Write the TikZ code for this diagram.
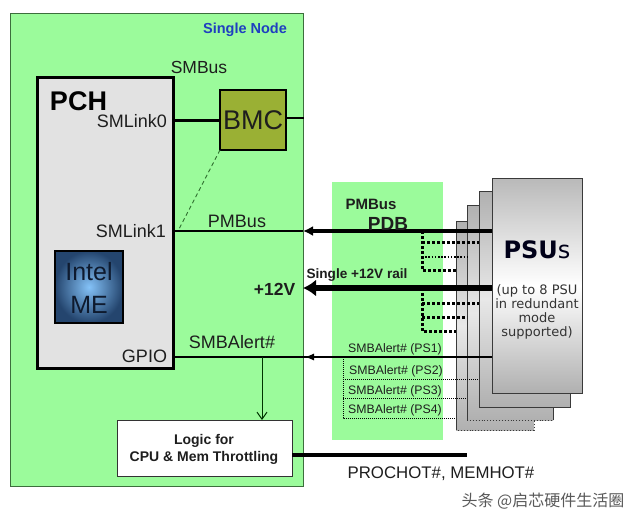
\documentclass[tikz,border=0pt]{standalone}
\usepackage{fontspec}
\setmainfont{Liberation Sans}
\newfontfamily\dejavu{DejaVu Sans}
\newfontfamily\cjk{Noto Sans CJK SC}
\usetikzlibrary{arrows.meta}
\definecolor{nodegreen}{HTML}{9BFB9B}
\definecolor{bordergreen}{HTML}{3C6E3C}
\definecolor{pchgray}{HTML}{E2E2E2}
\definecolor{bmcolive}{HTML}{9AB034}
\definecolor{nodeblue}{HTML}{1F3FC0}
\definecolor{txt}{HTML}{1E1E1E}
\definecolor{psuedge}{HTML}{3A3A3A}
\definecolor{meLight}{HTML}{84C2F8}
\definecolor{meDark}{HTML}{24456E}
\definecolor{meText}{HTML}{0E1A2E}
\definecolor{dashgreen}{HTML}{2F6F2F}
\newcommand{\fs}[1]{\fontsize{#1}{#1}\selectfont}
\tikzset{
  box/.style={inner sep=0, outer sep=0},
  lbl/.style={inner sep=0, outer sep=0, anchor=base, text=txt},
  psubox/.style={box, top color=gray!55, bottom color=gray!62, middle color=white},
  psuback/.style={box, top color=gray!62, bottom color=gray!62, middle color=gray!18},
  branch/.style={line width=3pt, dash pattern=on 3pt off 2pt},
  branchthin/.style={line width=1.6pt, dash pattern=on 1.6pt off 1.6pt},
  alertdot/.style={line width=0.8pt, dash pattern=on 1pt off 1pt},
}
\begin{document}
\begin{tikzpicture}[x=1pt,y=-1pt]
\useasboundingbox (0,0) rectangle (640,523);
\fill[white] (0,0) rectangle (640,523);
% containers
\node[box, minimum width=293pt, minimum height=473pt, fill=nodegreen, draw=bordergreen, line width=1pt] (single) at (156.5,249.5) {};
\node[box, minimum width=111pt, minimum height=258pt, fill=nodegreen] (pdb) at (387.5,311) {};
% PSU stack
\node[psuback, minimum width=78pt, minimum height=209pt] (p4) at (495,325.5) {};
\draw[psuedge, line width=0.9pt] (p4.south west) -- (p4.north west) -- (p4.north east);
\draw[psuedge, line width=0.9pt, dotted] (p4.north east) -- (p4.south east) -- (p4.south west);
\node[psuback, minimum width=86pt, minimum height=215pt] (p3) at (510,312.5) {};
\draw[psuedge, line width=0.9pt] (p3.south east) -- (p3.north east) -- (p3.north west) -- (p3.south west);
\draw[psuedge, line width=0.9pt, dotted] (p3.south west) -- (p3.south east);
\node[psuback, draw=psuedge, line width=0.9pt, minimum width=91pt, minimum height=216pt] (p2) at (524.5,299) {};
\node[psubox, draw=psuedge, line width=0.9pt, minimum width=90pt, minimum height=215pt] (p1) at (537,285.5) {};
% PCH and friends
\node[box, minimum width=136pt, minimum height=291pt, fill=pchgray, draw=black, line width=3pt] (pch) at (105,222.5) {};
\node[box, minimum width=66pt, minimum height=60pt, fill=bmcolive, draw=black, line width=2.5pt, font=\fs{27}, text=txt] (bmc) at (253,120) {BMC};
\node[box, minimum width=68pt, minimum height=72pt, inner color=meLight, outer color=meDark, draw=black, line width=2.5pt] (me) at (89,287) {};
\node[box, minimum width=175pt, minimum height=56pt, fill=white, draw=black!80, line width=1pt] (logic) at (204.5,448) {};
% coordinates
\coordinate (pmA) at (303,231);
\coordinate (vA) at (303,288);
\coordinate (sA) at (305,357);
\coordinate (sJ) at (343,357);
\coordinate (pmJ) at (422,231);
\coordinate (pmJ2) at (422,242);
\coordinate (pmJ3) at (422,257);
\coordinate (pmJ4) at (422,270);
\coordinate (vJ) at (422,288);
\coordinate (vJ2) at (422,303);
\coordinate (vJ3) at (422,317);
\coordinate (vJ4) at (422,331);
\coordinate (sJ2) at (343,379);
\coordinate (sJ3) at (343,398);
\coordinate (sJ4) at (343,418);
\coordinate (bmcR) at (304,118);
\coordinate (sl1) at (178,231);
\coordinate (gj) at (262,357);
\coordinate (pe) at (467,455);
% connectors
\draw[line width=3pt] (pch.east |- bmc.west) -- (bmc.west);
\draw[line width=2.5pt] (bmc.east |- bmcR) -- (bmcR);
\draw[dashgreen, line width=0.9pt, dash pattern=on 4pt off 3pt] (bmc.south west) -- (sl1);
\draw[line width=1.8pt] (pch.east |- pmA) -- (pmA);
\draw[line width=3.5pt, -{Latex[length=10pt,width=10pt]}] (p1.west |- pmA) -- (pmA);
\draw[line width=6pt, -{Latex[length=13pt,width=17pt]}] (p1.west |- vA) -- (vA);
\draw[line width=1.1pt] (pch.east |- sA) -- (p1.west |- sA);
\draw[line width=1.1pt, -{Latex[length=9pt,width=7pt]}] (sJ) -- (sA);
% PMBus branches
\draw[branch] (pmJ) -- (pmJ4) -- (p4.west |- pmJ4);
\draw[branch] (pmJ2) -- (p2.west |- pmJ2);
\draw[branchthin] (pmJ3) -- (p3.west |- pmJ3);
% 12V branches
\draw[branch] (vJ) -- (vJ4) -- (p4.west |- vJ4);
\draw[branch] (vJ2) -- (p2.west |- vJ2);
\draw[branch] (vJ3) -- (p3.west |- vJ3);
% SMBAlert branches
\draw[alertdot] (sJ) -- (sJ4) -- (p4.west |- sJ4);
\draw[alertdot] (sJ2) -- (p2.west |- sJ2);
\draw[alertdot] (sJ3) -- (p3.west |- sJ3);
% to logic
\draw[black!80!green, line width=1pt, -{Straight Barb[length=7pt,width=10pt]}] (gj) -- (gj |- logic.north);
\draw[line width=4pt] (logic.east |- pe) -- (pe);
% texts
\node[lbl, text=nodeblue, font=\bfseries\fs{14.5}] (tsingle) at (245,33) {Single Node};
\node[lbl, font=\fs{17.5}] (tsmbus) at (199,73) {SMBus};
\node[lbl, font=\bfseries\fs{27}, text=black] (tpch) at (78.5,110) {PCH};
\node[lbl, anchor=base east, font=\fs{18}] (tsl0) at (167,127) {SMLink0};
\node[lbl, anchor=base east, font=\fs{18}] (tsl1) at (166,237) {SMLink1};
\node[lbl, font=\fs{18}] (tpmbus) at (237,227) {PMBus};
\node[lbl, font=\fs{25}, text=meText] (tintel) at (89,280) {Intel};
\node[lbl, font=\fs{25}, text=meText] (tme) at (89,313) {ME};
\node[lbl, font=\bfseries\fs{17.5}] (t12v) at (274.5,295) {+12V};
\node[lbl, font=\fs{18}] (tsmba) at (232,348) {SMBAlert\#};
\node[lbl, anchor=base east, font=\fs{18}] (tgpio) at (167,362) {GPIO};
\node[lbl, font=\bfseries\fs{15}] (tpdbpm) at (371,209) {PMBus};
\node[lbl, font=\bfseries\fs{19}] (tpdb) at (388,230) {PDB};
\node[lbl, font=\bfseries\fs{13.6}] (trail) at (357,278) {Single +12V rail};
\node[lbl, font=\dejavu\fs{24}, text=black!90!blue] (tpsus) at (537,258) {\textbf{PSU}s};
\node[lbl, font=\dejavu\fs{13}, text=black!80] (tu1) at (537,294) {(up to 8 PSU};
\node[lbl, font=\dejavu\fs{13}, text=black!80] (tu2) at (537,308) {in redundant};
\node[lbl, font=\dejavu\fs{13}, text=black!80] (tu3) at (537,322) {mode};
\node[lbl, font=\dejavu\fs{13}, text=black!80] (tu4) at (537,336) {supported)};
\node[lbl, font=\fs{12.3}] (ta1) at (395,352) {SMBAlert\# (PS1)};
\node[lbl, font=\fs{12.3}] (ta2) at (396,374) {SMBAlert\# (PS2)};
\node[lbl, font=\fs{12.3}] (ta3) at (395,394) {SMBAlert\# (PS3)};
\node[lbl, font=\fs{12.3}] (ta4) at (395,413) {SMBAlert\# (PS4)};
\node[lbl, font=\bfseries\fs{14}] (tlog1) at (204,444) {Logic for};
\node[lbl, font=\bfseries\fs{14}] (tlog2) at (204,461) {CPU \& Mem Throttling};
\node[lbl, font=\fs{16.8}] (tproc) at (441,478) {PROCHOT\#, MEMHOT\#};
\node[lbl, font=\cjk\fs{16}, text=black!65] (wm) at (543,506) {头条 @启芯硬件生活圈};
\end{tikzpicture}
\end{document}
